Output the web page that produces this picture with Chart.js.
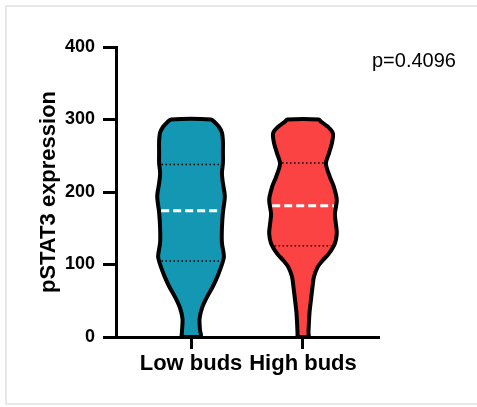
<!DOCTYPE html>
<html>
<head>
<meta charset="utf-8">
<script src="https://cdn.jsdelivr.net/npm/chart.js@4/dist/chart.umd.min.js"></script>
<style>
  html, body { margin: 0; padding: 0; background: #fff; }
  #wrap { position: relative; width: 477px; height: 407px; overflow: hidden; }
  #frame { position: absolute; left: 5px; top: 5px; width: 490px; height: 400px; box-sizing: border-box;
           border-left: 2px solid #e8e8e8; border-top: 2px solid #e8e8e8; border-bottom: 2px solid #e8e8e8; }
  canvas { position: absolute; left: 0; top: 0; }
</style>
</head>
<body>
<div id="wrap"><div id="frame"></div><canvas id="c" width="477" height="407"></canvas></div>
<script>
// Groups and y-axis ticks
const groups = ['Low buds', 'High buds'];
const yTicks = [0, 100, 200, 300, 400];

// Kernel density profile of each group: expression level and violin half-width (in group units)
const lowLevels  = [0, 10, 25, 40, 55, 70, 85, 100, 111, 130, 150, 172, 194, 212, 226, 240, 255, 270, 282, 290, 296, 300];
const lowWidths  = [0.085, 0.08, 0.076, 0.098, 0.142, 0.196, 0.24, 0.276, 0.294, 0.276, 0.276, 0.285, 0.302, 0.285, 0.276, 0.285, 0.285, 0.285, 0.276, 0.249, 0.214, 0.178];
const highLevels = [0, 6, 33, 51, 69, 83, 97, 106, 115, 129, 143, 156, 170, 189, 207, 221, 239, 253, 267, 281, 290, 297, 300];
const highWidths = [0.049, 0.049, 0.058, 0.071, 0.085, 0.098, 0.133, 0.178, 0.231, 0.285, 0.302, 0.294, 0.285, 0.302, 0.276, 0.24, 0.205, 0.231, 0.258, 0.267, 0.222, 0.16, 0.14];

// Quartiles: [Q1, median, Q3]
const lowQuartiles  = [105, 174, 238];
const highQuartiles = [126, 181, 240];

const pValueText = 'p=0.4096';

const lowColor  = '#1497b3';
const highColor = '#fb4343';

// Outline of a violin centred on position `pos`
function violinOutline(pos, levels, widths) {
  const pts = [];
  for (let i = 0; i < levels.length; i++) pts.push({ x: pos - widths[i], y: levels[i] });
  for (let i = levels.length - 1; i >= 0; i--) pts.push({ x: pos + widths[i], y: levels[i] });
  pts.push({ x: pos - widths[0], y: levels[0] });
  return pts;
}

// Half-width of the violin at a given level (linear between profile points)
function widthAt(levels, widths, v) {
  for (let i = 1; i < levels.length; i++) {
    if (v <= levels[i]) {
      const t = (v - levels[i - 1]) / (levels[i] - levels[i - 1]);
      return widths[i - 1] + t * (widths[i] - widths[i - 1]);
    }
  }
  return widths[widths.length - 1];
}

function quartileLine(pos, levels, widths, v) {
  const w = widthAt(levels, widths, v) - 0.02;
  return [{ x: pos - w, y: v }, { x: pos + w, y: v }];
}

function violinDataset(pos, levels, widths, color) {
  return {
    data: violinOutline(pos, levels, widths),
    showLine: true, fill: 'shape', backgroundColor: color,
    borderColor: '#000', borderWidth: 4, borderJoinStyle: 'round',
    tension: 0.3, pointRadius: 0, clip: false, order: 2
  };
}

function lineDataset(points, color, width, dash) {
  return {
    data: points, showLine: true, fill: false, borderColor: color, borderWidth: width,
    borderDash: dash, pointRadius: 0, tension: 0, order: 1
  };
}

const datasets = [
  violinDataset(1, lowLevels, lowWidths, lowColor),
  violinDataset(2, highLevels, highWidths, highColor),
  lineDataset(quartileLine(1, lowLevels, lowWidths, lowQuartiles[0]), '#000', 1.5, [1.5, 2.5]),
  lineDataset(quartileLine(1, lowLevels, lowWidths, lowQuartiles[2]), '#000', 1.5, [1.5, 2.5]),
  lineDataset(quartileLine(1, lowLevels, lowWidths, lowQuartiles[1]), '#fff', 3, [8, 4]),
  lineDataset(quartileLine(2, highLevels, highWidths, highQuartiles[0]), '#000', 1.5, [1.5, 2.5]),
  lineDataset(quartileLine(2, highLevels, highWidths, highQuartiles[2]), '#000', 1.5, [1.5, 2.5]),
  lineDataset(quartileLine(2, highLevels, highWidths, highQuartiles[1]), '#fff', 3, [8, 4])
];

const FONT = "'Liberation Sans', Arial, Helvetica, sans-serif";

const pValuePlugin = {
  id: 'pValue',
  afterDraw(chart) {
    const ctx = chart.ctx;
    ctx.save();
    ctx.font = `20px ${FONT}`;
    ctx.fillStyle = '#000';
    ctx.textAlign = 'left';
    ctx.textBaseline = 'alphabetic';
    ctx.fillText(pValueText, 372, 67);
    ctx.restore();
  }
};

new Chart(document.getElementById('c'), {
  type: 'scatter',
  data: { datasets },
  options: {
    responsive: false,
    devicePixelRatio: 1,
    animation: false,
    layout: { padding: { top: 47, right: 99, left: 0, bottom: 0 } },
    plugins: { legend: { display: false }, tooltip: { enabled: false } },
    scales: {
      x: {
        type: 'linear', min: 0.33, max: 2.67,
        afterBuildTicks: s => { s.ticks = groups.map((g, i) => ({ value: i + 1 })); },
        afterFit: s => { s.height = 70; },
        grid: { drawOnChartArea: false, drawTicks: true, tickLength: 12, color: '#000', lineWidth: 3 },
        border: { display: true, color: '#000', width: 3 },
        ticks: {
          callback: (v, i) => groups[i], autoSkip: false, maxRotation: 0, color: '#000', padding: 2,
          font: { family: FONT, size: 22, weight: 'bold' }
        }
      },
      y: {
        min: 0, max: 400,
        afterBuildTicks: s => { s.ticks = yTicks.map(v => ({ value: v })); },
        afterFit: s => { s.width = 116; },
        grid: { drawOnChartArea: false, drawTicks: true, tickLength: 13, color: '#000', lineWidth: 3 },
        border: { display: true, color: '#000', width: 3 },
        ticks: { color: '#000', padding: 8, font: { family: FONT, size: 18, weight: 'bold' } },
        title: {
          display: true, text: 'pSTAT3 expression', color: '#000',
          font: { family: FONT, size: 22, weight: 'bold' }, padding: { top: 36, bottom: 0 }
        }
      }
    }
  },
  plugins: [pValuePlugin]
});
</script>
</body>
</html>
